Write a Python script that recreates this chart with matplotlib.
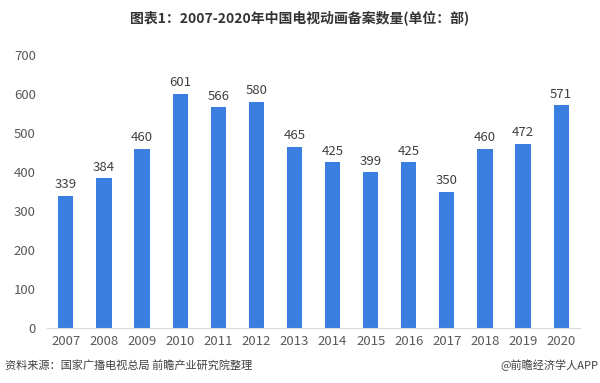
import matplotlib.pyplot as plt

plt.rcParams['font.family'] = ['Noto Sans CJK SC', 'DejaVu Sans']

years = ["2007", "2008", "2009", "2010", "2011", "2012", "2013",
         "2014", "2015", "2016", "2017", "2018", "2019", "2020"]
counts = [339, 384, 460, 601, 566, 580, 465, 425, 399, 425, 350, 460, 472, 571]

fig = plt.figure(figsize=(6, 3.83), dpi=100)
ax = fig.add_axes([0.078, 0.1436, 0.889, 0.7124])

bars = ax.bar(range(len(years)), counts, width=0.4, color="#3a7ee0")
for i, v in enumerate(counts):
    ax.text(i, v + 12, str(v), ha="center", va="bottom", fontsize=9.5, color="#404040")

ax.set_xlim(-0.5, len(years) - 0.5)
ax.set_ylim(0, 700)
ax.set_yticks(range(0, 701, 100))
ax.set_xticks(range(len(years)))
ax.set_xticklabels(years)
ax.tick_params(axis="both", length=0, labelsize=9.5, colors="#595959")
ax.tick_params(axis="y", pad=8)
ax.tick_params(axis="x", pad=5)
for s in ["top", "right", "left"]:
    ax.spines[s].set_visible(False)
ax.spines["bottom"].set_color("#d9d9d9")

fig.text(0.5, 0.955, "图表1：2007-2020年中国电视动画备案数量(单位：部)",
         ha="center", va="center", fontsize=10, fontweight="bold", color="#333333")
fig.text(0.008, 0.045, "资料来源：国家广播电视总局 前瞻产业研究院整理",
         ha="left", va="center", fontsize=8, color="#404040")
fig.text(0.997, 0.045, "@前瞻经济学人APP",
         ha="right", va="center", fontsize=8, color="#404040")

fig.savefig("out.png", dpi=100)
